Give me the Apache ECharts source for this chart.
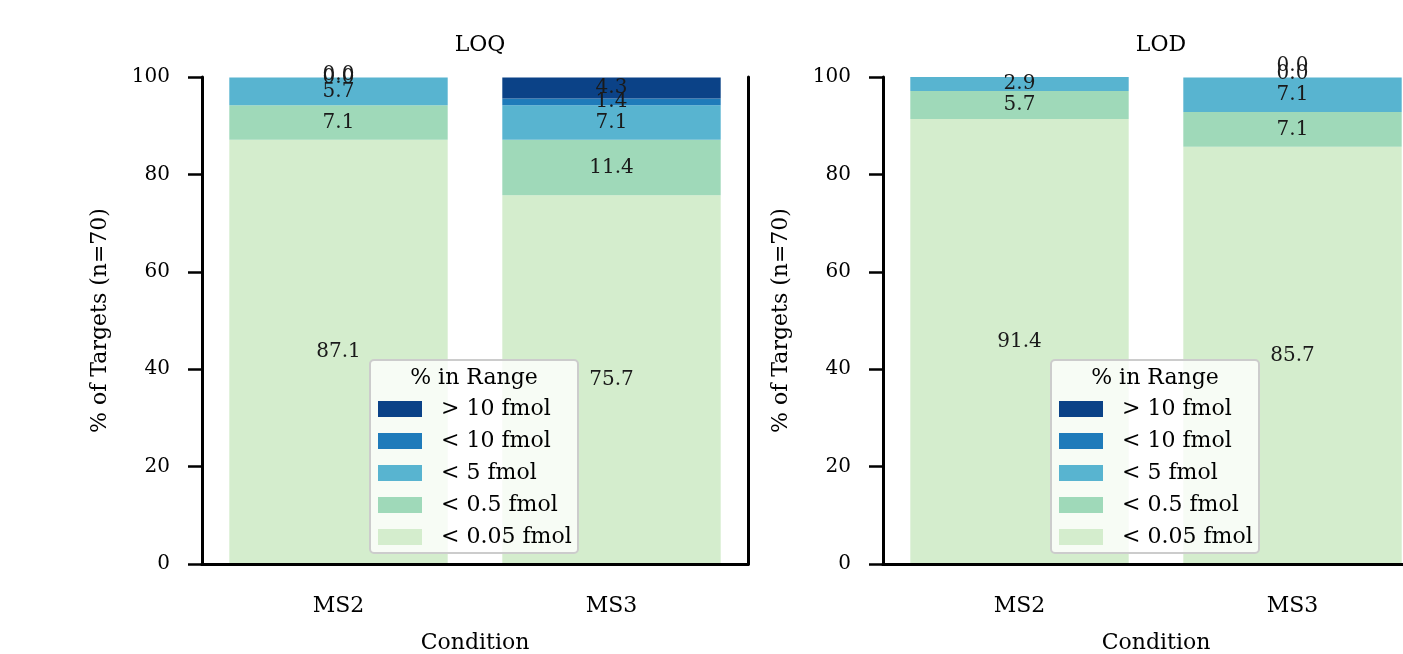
<!DOCTYPE html>
<html>
<head>
<meta charset="utf-8">
<script src="https://cdn.jsdelivr.net/npm/echarts@6/dist/echarts.min.js"></script>
<style>
    html, body { margin: 0; padding: 0; background: #fff; }
    #chart { width: 1403px; height: 654px; }
</style>
</head>
<body>
<div id="chart"></div>
<script>
// categories and ranges
const categories = ['MS2', 'MS3'];
const rangeNames = ['< 0.05 fmol', '< 0.5 fmol', '< 5 fmol', '< 10 fmol', '> 10 fmol'];
const rangeColors = ['#d4edcd', '#9fd9b9', '#58b4d0', '#1f7bba', '#0b4287'];

// LOQ (% of targets), bottom to top
const loq005 = [87.1, 75.7];
const loq05 = [7.1, 11.4];
const loq5 = [5.7, 7.1];
const loq10 = [0.0, 1.4];
const loqOver10 = [0.0, 4.3];

// LOD (% of targets), bottom to top
const lod005 = [91.4, 85.7];
const lod05 = [5.7, 7.1];
const lod5 = [2.9, 7.1];
const lod10 = [null, 0.0];
const lodOver10 = [null, 0.0];

const panelTitles = ['LOQ', 'LOD'];

const FONT = 'DejaVu Serif';
// the right panel runs past the window edge, like the original figure crop
const panels = [
    { left: 202, rightSpine: true, series: [loq005, loq05, loq5, loq10, loqOver10], zeroOffsets: [0, 0, 0, 0, -3] },
    { left: 883, rightSpine: false, series: [lod005, lod05, lod5, lod10, lodOver10], zeroOffsets: [0, 0, 0, -4, -12] }
];
const gridW = 546, gridTop = 77, gridH = 487;

const chart = echarts.init(document.getElementById('chart'));

const grids = [], xAxes = [], yAxes = [], series = [], titles = [], graphics = [], legends = [];
panels.forEach((p, gi) => {
    grids.push({
        left: p.left, top: gridTop, width: gridW, height: gridH,
        containLabel: false, outerBoundsMode: 'none'
    });
    xAxes.push({
        type: 'category', gridIndex: gi, data: categories, z: 5,
        name: 'Condition', nameLocation: 'middle', nameGap: 68,
        nameTextStyle: { fontFamily: FONT, fontSize: 22, color: '#000' },
        axisLine: { lineStyle: { color: '#000', width: 3 } },
        axisTick: { alignWithLabel: true, length: 14, lineStyle: { width: 2.5, color: '#000' } },
        axisLabel: { fontFamily: FONT, fontSize: 22, color: '#000', margin: 31 },
        splitLine: { show: false }
    });
    xAxes.push({
        type: 'category', gridIndex: gi, data: categories, position: 'top', z: 5,
        axisLine: { lineStyle: { color: '#000', width: 3 } },
        axisTick: { show: false }, axisLabel: { show: false }, splitLine: { show: false }
    });
    yAxes.push({
        type: 'value', gridIndex: gi, min: 0, max: 100, interval: 20, z: 5,
        name: '% of Targets (n=70)', nameLocation: 'middle', nameGap: 91,
        nameTextStyle: { fontFamily: FONT, fontSize: 22, color: '#000' },
        axisLine: { show: true, lineStyle: { color: '#000', width: 3 } },
        axisTick: { show: true, length: 14, lineStyle: { width: 2.5, color: '#000' } },
        axisLabel: { fontFamily: FONT, fontSize: 20, color: '#000', margin: 32 },
        splitLine: { show: false }
    });
    yAxes.push({
        type: 'value', gridIndex: gi, min: 0, max: 100, position: 'right', z: 5,
        axisLine: { show: p.rightSpine, lineStyle: { color: '#000', width: 3 } },
        axisTick: { show: false }, axisLabel: { show: false }, splitLine: { show: false }
    });
    p.series.forEach((vals, si) => {
        series.push({
            name: rangeNames[si],
            type: 'bar',
            stack: 'panel' + gi,
            xAxisIndex: gi * 2,
            yAxisIndex: gi * 2,
            barWidth: '80%',
            itemStyle: { color: rangeColors[si] },
            data: vals.map(v => ({
                value: v,
                label: v === 0 ? { offset: [0, p.zeroOffsets[si]] } : {}
            })),
            label: {
                show: true,
                position: 'inside',
                fontFamily: FONT,
                fontSize: 20,
                color: '#1a1a1a',
                formatter: q => (q.value == null ? '' : q.value.toFixed(1))
            },
            emphasis: { disabled: true }
        });
    });
    titles.push({
        text: panelTitles[gi], left: p.left + gridW / 2, top: 29, textAlign: 'center',
        textStyle: { fontFamily: FONT, fontSize: 22, fontWeight: 'normal', color: '#000' }
    });
    const lx = p.left + 168;
    graphics.push({
        type: 'rect', z: 10,
        shape: { x: lx, y: 360, width: 208, height: 193, r: 4 },
        style: { fill: 'rgba(255,255,255,0.8)', stroke: '#cccccc', lineWidth: 2 }
    });
    graphics.push({
        type: 'text', z: 11, x: lx + 104, y: 378,
        style: { text: '% in Range', fontFamily: FONT, fontSize: 22, fill: '#000', align: 'center', verticalAlign: 'middle' }
    });
    legends.push({
        left: lx + 8, top: 398, orient: 'vertical', z: 12,
        itemWidth: 44, itemHeight: 16, itemGap: 10, padding: 0,
        icon: 'rect', selectedMode: false,
        data: rangeNames.slice().reverse(),
        textStyle: { fontFamily: FONT, fontSize: 22, color: '#000', padding: [0, 0, 0, 14] }
    });
});

chart.setOption({
    animation: false,
    title: titles,
    grid: grids,
    xAxis: xAxes,
    yAxis: yAxes,
    legend: legends,
    graphic: graphics,
    series: series
});
</script>
</body>
</html>
